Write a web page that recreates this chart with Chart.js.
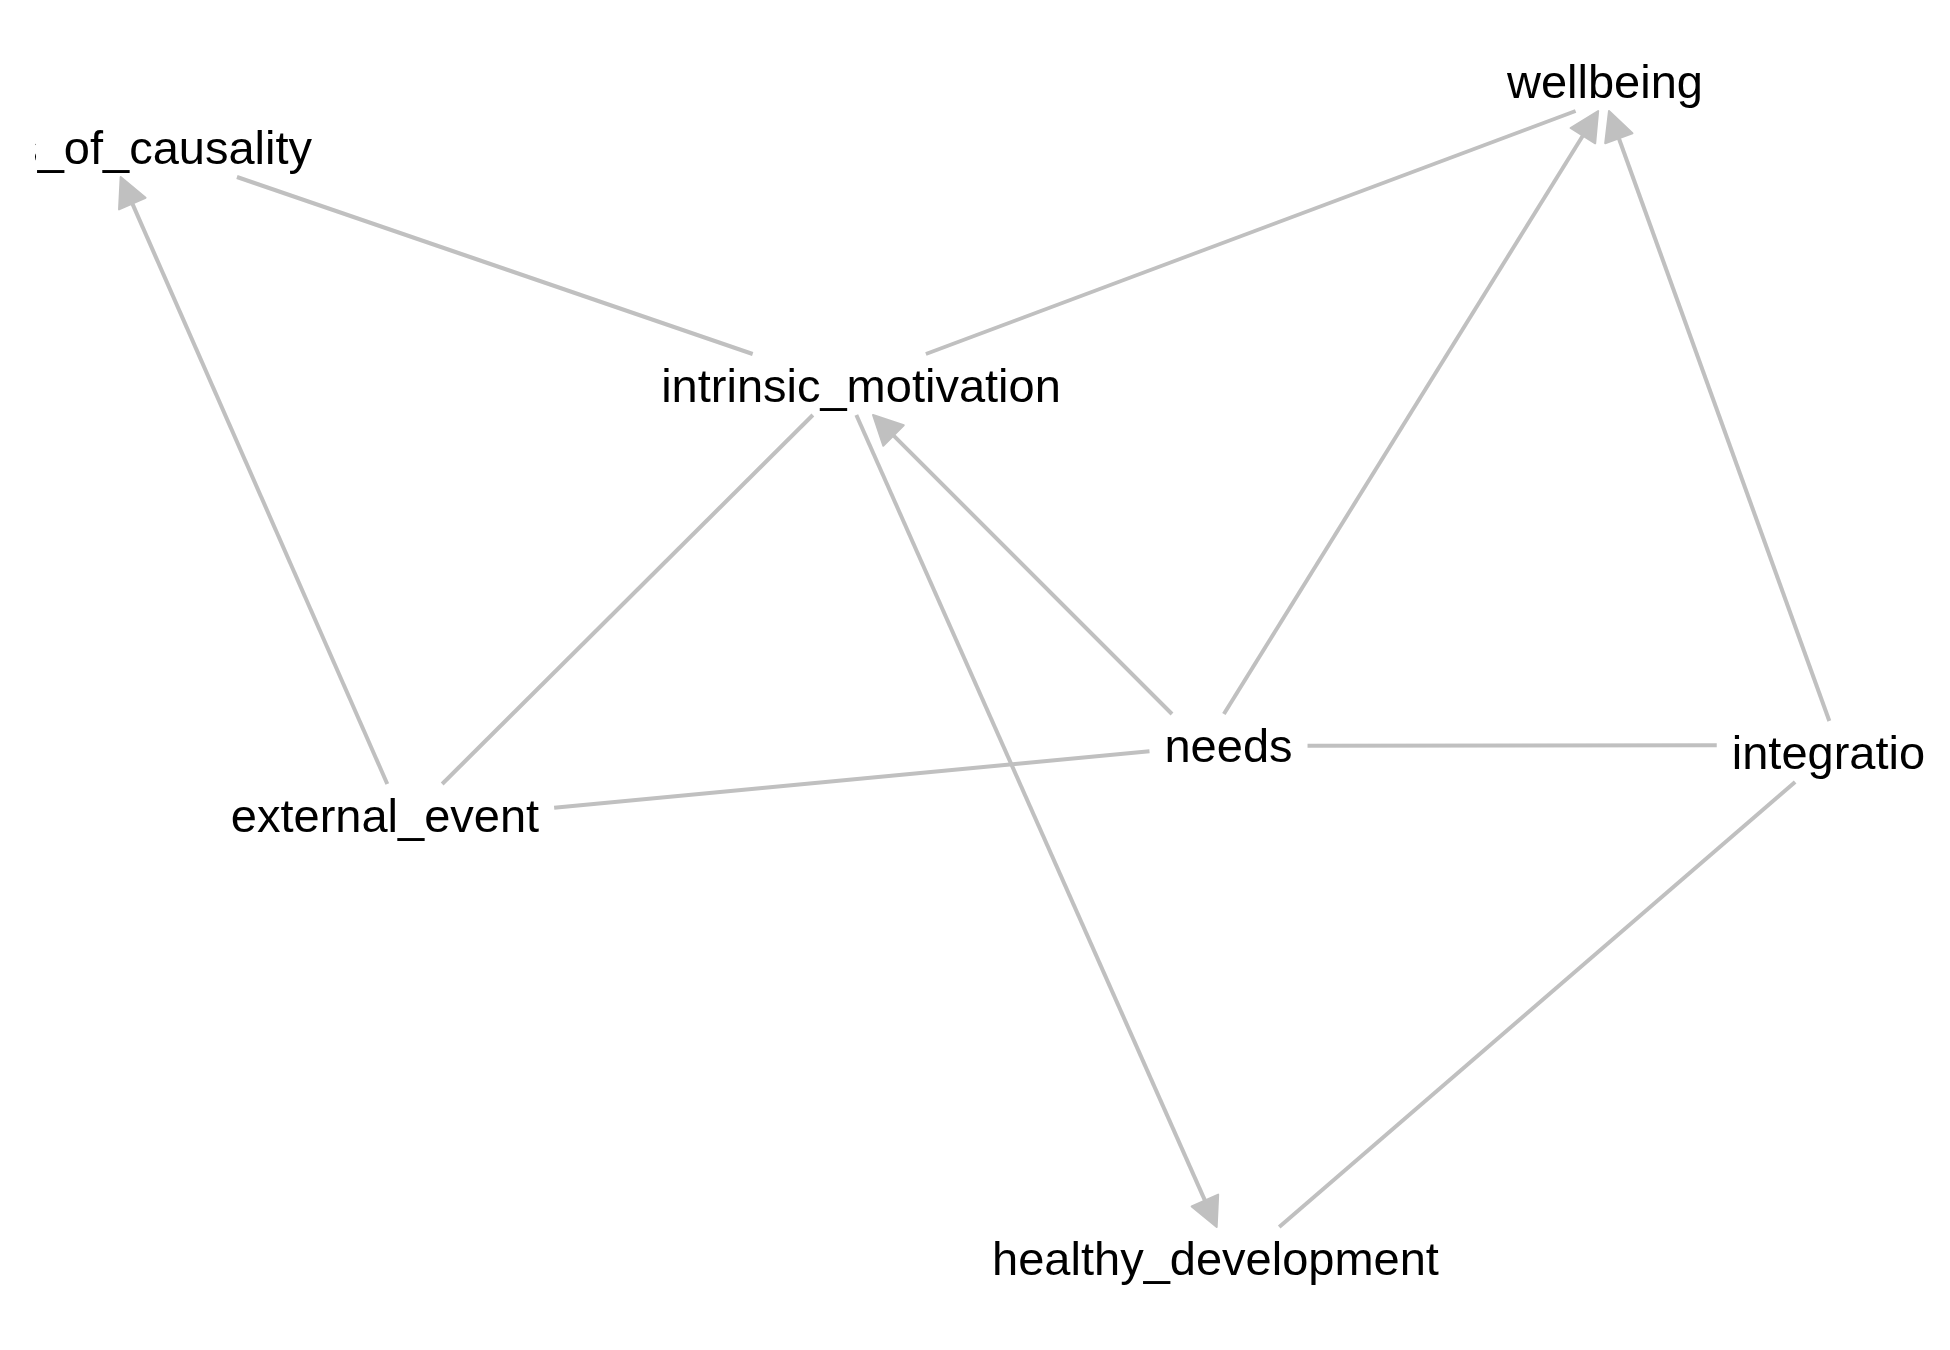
<!DOCTYPE html>
<html>
<head>
<meta charset="utf-8">
<title>Network</title>
<script src="https://cdn.jsdelivr.net/npm/chart.js@4.4.1/dist/chart.umd.min.js"></script>
<style>
  html, body { margin: 0; padding: 0; background: #fff; }
  #wrap { width: 1950px; height: 1350px; }
</style>
</head>
<body>
<div id="wrap"><canvas id="graph" width="1950" height="1350"></canvas></div>
<script>
// node layout (anchor where edges meet) and where each label sits
const nodeNames = ['locus_of_causality', 'intrinsic_motivation', 'wellbeing', 'needs', 'integration', 'external_event', 'healthy_development'];
const nodeX = [100, 843, 1605, 1204, 1838, 404, 1234];
const nodeY = [130, 385, 100, 746, 745, 822, 1266];
const labelX = [120, 861, 1605, 1228.5, 1841.5, 385, 1215.5];
const labelY = [164, 402, 98, 762, 769, 832, 1275];

// edges
const edgeFrom = ['external_event', 'intrinsic_motivation', 'intrinsic_motivation', 'external_event', 'needs', 'intrinsic_motivation', 'needs', 'integration', 'needs', 'external_event', 'integration'];
const edgeTo = ['locus_of_causality', 'locus_of_causality', 'wellbeing', 'intrinsic_motivation', 'intrinsic_motivation', 'healthy_development', 'wellbeing', 'wellbeing', 'integration', 'needs', 'healthy_development'];
const edgeArrow = [true, false, false, false, true, true, true, true, false, false, false];

const EDGE_COLOR = '#c0c0c0';
const LABEL_FONT = '47px "Liberation Sans", Arial, sans-serif';

function exitT(box, px, py, dx, dy) {
  let tx = Infinity, ty = Infinity;
  if (dx > 0) tx = (box.right - px) / dx;
  else if (dx < 0) tx = (box.left - px) / dx;
  if (dy > 0) ty = (box.bottom - py) / dy;
  else if (dy < 0) ty = (box.top - py) / dy;
  return Math.max(0, Math.min(tx, ty));
}

const networkPlugin = {
  id: 'network',
  afterDatasetsDraw(chart) {
    const ctx = chart.ctx;
    const xs = chart.scales.x;
    const ys = chart.scales.y;
    const area = chart.chartArea;

    ctx.save();
    ctx.font = LABEL_FONT;
    const boxes = nodeNames.map((name, i) => {
      const cx = xs.getPixelForValue(labelX[i]);
      const base = ys.getPixelForValue(labelY[i]);
      const half = ctx.measureText(name).width / 2 + 15;
      return { left: cx - half, right: cx + half, top: base - 48, bottom: base + 13 };
    });

    ctx.strokeStyle = EDGE_COLOR;
    ctx.fillStyle = EDGE_COLOR;

    edgeFrom.forEach((from, i) => {
      const a = nodeNames.indexOf(from);
      const b = nodeNames.indexOf(edgeTo[i]);
      const ax = xs.getPixelForValue(nodeX[a]), ay = ys.getPixelForValue(nodeY[a]);
      const bx = xs.getPixelForValue(nodeX[b]), by = ys.getPixelForValue(nodeY[b]);
      const dx = bx - ax, dy = by - ay;
      const t0 = exitT(boxes[a], ax, ay, dx, dy);
      const t1 = 1 - exitT(boxes[b], bx, by, -dx, -dy);
      const sx = ax + t0 * dx, sy = ay + t0 * dy;
      let ex = ax + t1 * dx, ey = ay + t1 * dy;
      const len = Math.hypot(dx, dy);
      const ux = dx / len, uy = dy / len;

      if (edgeArrow[i]) {
        const L = 29, W = 14.5;
        const tipX = ex, tipY = ey;
        const bxp = tipX - ux * L, byp = tipY - uy * L;
        ctx.beginPath();
        ctx.moveTo(tipX, tipY);
        ctx.lineTo(bxp - uy * W, byp + ux * W);
        ctx.lineTo(bxp + uy * W, byp - ux * W);
        ctx.closePath();
        ctx.lineJoin = 'round';
        ctx.lineWidth = 2;
        ctx.fill();
        ctx.stroke();
        ex = tipX - ux * (L - 4);
        ey = tipY - uy * (L - 4);
      }

      ctx.beginPath();
      ctx.moveTo(sx, sy);
      ctx.lineTo(ex, ey);
      ctx.lineWidth = 4;
      ctx.lineCap = 'butt';
      ctx.stroke();
    });

    // labels, clipped to the panel
    ctx.beginPath();
    ctx.rect(area.left, area.top, area.right - area.left, area.bottom - area.top);
    ctx.clip();
    ctx.fillStyle = '#000';
    ctx.textAlign = 'center';
    ctx.textBaseline = 'alphabetic';
    nodeNames.forEach((name, i) => {
      ctx.fillText(name, xs.getPixelForValue(labelX[i]), ys.getPixelForValue(labelY[i]));
    });
    ctx.restore();
  }
};

new Chart(document.getElementById('graph'), {
  type: 'scatter',
  data: {
    datasets: [{
      data: nodeNames.map((n, i) => ({ x: nodeX[i], y: nodeY[i] })),
      pointRadius: 0,
      pointHoverRadius: 0
    }]
  },
  options: {
    responsive: false,
    animation: false,
    devicePixelRatio: 1,
    layout: { padding: { left: 35, right: 24, top: 30, bottom: 30 } },
    plugins: { legend: { display: false }, tooltip: { enabled: false } },
    scales: {
      x: { type: 'linear', min: 35, max: 1926, display: false },
      y: { type: 'linear', min: 30, max: 1320, reverse: true, display: false }
    }
  },
  plugins: [networkPlugin]
});
</script>
</body>
</html>
